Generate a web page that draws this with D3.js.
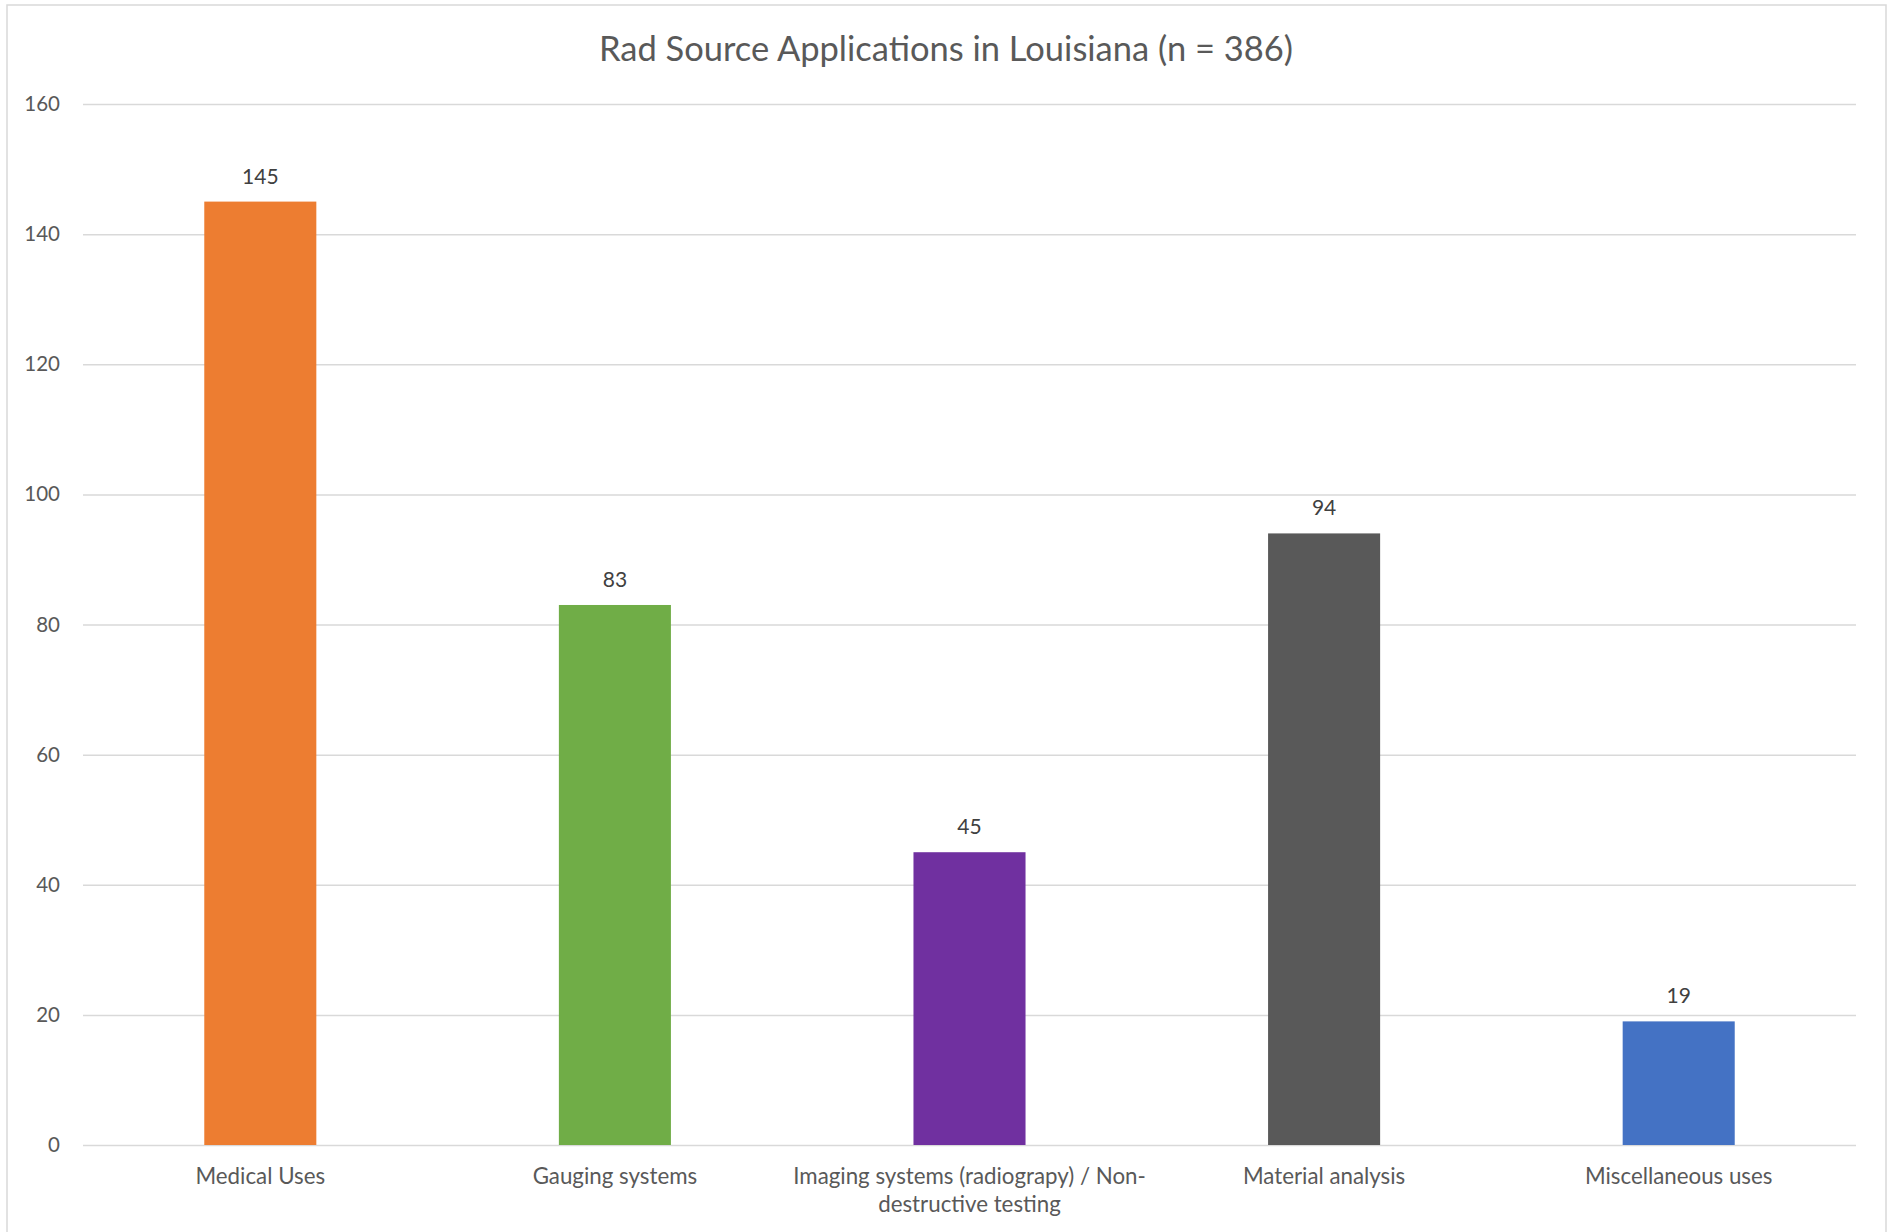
<!DOCTYPE html>
<html>
<head>
<meta charset="utf-8">
<script src="https://cdn.jsdelivr.net/npm/d3@7"></script>
<style>
  body { margin: 0; background: white; }
  text { font-family: Lato, "Open Sans", sans-serif; }
</style>
</head>
<body>
<div id="container"></div>
<script>
let categories = [
  ["Medical Uses"],
  ["Gauging systems"],
  ["Imaging systems (radiograpy) / Non-", "destructive testing"],
  ["Material analysis"],
  ["Miscellaneous uses"]
];
let counts = [145, 83, 45, 94, 19];
let barColors = ["#ED7D31", "#70AD47", "#7030A0", "#595959", "#4472C4"];
let yTicks = [0, 20, 40, 60, 80, 100, 120, 140, 160];
let title = "Rad Source Applications in Louisiana (n = 386)";

let w = 1892;
let h = 1232;

let viz = d3.select("#container")
  .append("svg")
    .attr("width", w)
    .attr("height", h)
    .style("background-color", "white")
;

// chart frame (bottom runs off the picture)
viz.append("rect")
    .attr("x", 7)
    .attr("y", 5)
    .attr("width", 1879)
    .attr("height", 1300)
    .attr("fill", "none")
    .attr("stroke", "#d9d9d9")
    .attr("stroke-width", 1.5)
;

let left = 83;
let right = 1856;
let yScale = d3.scaleLinear().domain([0, 160]).range([1145, 104]);
let xScale = d3.scaleBand()
  .domain(d3.range(counts.length))
  .range([left, right])
  .paddingInner(0.684)
  .paddingOuter(0.342)
;

viz.append("text")
    .text(title)
    .attr("x", 946)
    .attr("y", 61)
    .attr("text-anchor", "middle")
    .attr("font-size", 34.5)
    .attr("fill", "#595959")
;

// gridlines + tick labels
let yAxis = d3.axisLeft(yScale)
  .tickValues(yTicks)
  .tickSize(left - right)
  .tickPadding(23)
;
let yg = viz.append("g")
    .attr("transform", "translate(" + left + ",0)")
    .call(yAxis)
;
yg.select(".domain").remove();
yg.selectAll(".tick line")
    .attr("stroke", "#d9d9d9")
    .attr("stroke-width", 1.5)
;
yg.selectAll(".tick text")
    .attr("font-family", "Lato, 'Open Sans', sans-serif")
    .attr("font-size", 20.5)
    .attr("fill", "#595959")
;

function barX(d, i){
  return xScale(i);
}

function barY(d, i){
  return yScale(d);
}

function barHeight(d, i){
  return yScale(0) - yScale(d);
}

viz.selectAll(".bar").data(counts).enter()
  .append("rect")
    .classed("bar", true)
    .attr("x", barX)
    .attr("y", barY)
    .attr("width", xScale.bandwidth())
    .attr("height", barHeight)
    .attr("fill", function(d, i){ return barColors[i]; })
;

viz.selectAll(".valuelabel").data(counts).enter()
  .append("text")
    .classed("valuelabel", true)
    .text(function(d){ return d; })
    .attr("x", function(d, i){ return xScale(i) + xScale.bandwidth() / 2; })
    .attr("y", function(d){ return yScale(d) - 18; })
    .attr("text-anchor", "middle")
    .attr("font-size", 21)
    .attr("fill", "#404040")
;

let catLabels = viz.selectAll(".catlabel").data(categories).enter()
  .append("text")
    .classed("catlabel", true)
    .attr("text-anchor", "middle")
    .attr("font-size", 22.3)
    .attr("fill", "#595959")
;
catLabels.selectAll("tspan").data(function(d, i){
    return d.map(function(line){ return {line: line, i: i}; });
  }).enter()
  .append("tspan")
    .text(function(d){ return d.line; })
    .attr("x", function(d){ return xScale(d.i) + xScale.bandwidth() / 2; })
    .attr("y", function(d, j){ return 1184 + j * 28; })
;
</script>
</body>
</html>
